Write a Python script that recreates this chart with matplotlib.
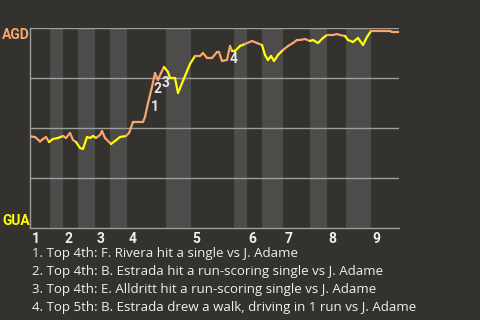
import matplotlib
matplotlib.use("Agg")
import matplotlib.pyplot as plt
from matplotlib.collections import LineCollection
import numpy as np

# win probability trace (x = game progress in plays, wp = chance AGD wins)
play = [0, 1.25, 2.5, 3.25, 4, 4.75, 5.75, 7, 8.25, 9, 10, 10.75, 11.5, 12.5, 13.25,
        14.25, 15, 15.75, 16.5, 17.5, 18, 18.75, 20.25, 21.25, 22.5, 24, 24.75, 25.75,
        28.25, 28.75, 29.5, 30.5, 31.25, 32, 32.75, 33.5, 34.5, 35, 36.25, 37, 38.75,
        40, 41.25, 42.5, 43.25, 44.25, 45.5, 46.75, 47.25, 48, 49.25, 50, 50.5, 51.25,
        52.5, 53.75, 55.5, 56.75, 58, 58.75, 59.5, 60.25, 61, 62, 63.25, 64.5, 65.75,
        66.75, 67.5, 68.75, 70, 70.75, 72, 73.25, 74.25, 75.75, 76.75, 77.5, 78.75,
        79.5, 80.75, 82, 83.25, 84.25, 85.25, 90, 90.5, 92.25]
wp = [0.458, 0.455, 0.433, 0.445, 0.455, 0.43, 0.445, 0.45, 0.46, 0.45, 0.475, 0.44,
      0.43, 0.40, 0.395, 0.455, 0.45, 0.46, 0.45, 0.465, 0.485, 0.45, 0.42, 0.435,
      0.455, 0.46, 0.475, 0.53, 0.53, 0.555, 0.625, 0.705, 0.775, 0.74, 0.775, 0.805,
      0.78, 0.75, 0.75, 0.675, 0.76, 0.82, 0.86, 0.86, 0.875, 0.85, 0.85, 0.88, 0.88,
      0.835, 0.84, 0.91, 0.885, 0.885, 0.91, 0.92, 0.935, 0.925, 0.915, 0.865, 0.84,
      0.86, 0.835, 0.865, 0.89, 0.91, 0.925, 0.94, 0.94, 0.945, 0.935, 0.94, 0.925,
      0.95, 0.965, 0.965, 0.97, 0.965, 0.96, 0.94, 0.93, 0.95, 0.915, 0.955, 0.985,
      0.985, 0.98, 0.98]

inning_start = [0, 8.25, 16.25, 24.25, 40.25, 54.25, 63.25, 74.25, 85.25]
bottom_halves = [(5, 8.25), (12, 16.25), (20, 24.25), (34, 40.25), (51, 54.25),
                 (58, 63.25), (70, 74.25), (79, 85.25)]
yellow_spans = [(4.75, 8.25), (12, 16.25), (20, 24.25), (34, 41.25), (50.5, 54.25),
                (58, 63.25), (70, 74.25), (79, 85.25)]
game_end = 92.25

events = ["1. Top 4th: F. Rivera hit a single vs J. Adame",
          "2. Top 4th: B. Estrada hit a run-scoring single vs J. Adame",
          "3. Top 4th: E. Alldritt hit a run-scoring single vs J. Adame",
          "4. Top 5th: B. Estrada drew a walk, driving in 1 run vs J. Adame"]
event_marks = [(31.25, 0.605), (32, 0.695), (34, 0.725), (51.0, 0.845)]

away, home = "AGD", "GUA"
bg = "#34322f"
band = "#4d4c4a"
grid = "#9d9d9b"
orange = "#f9a66c"
yellow = "#ffff00"

plt.rcParams['font.family'] = ['Roboto', 'DejaVu Sans']

fig = plt.figure(figsize=(4.8, 3.2), dpi=100, facecolor=bg)
ax = fig.add_axes([30 / 480, 1 - 228 / 320, 369 / 480, 200 / 320])
ax.set_facecolor(bg)
ax.set_xlim(0, game_end)
ax.set_ylim(0, 1)

for a, b in bottom_halves:
    ax.axvspan(a, b, color=band, lw=0, zorder=0)

for y in [0.25, 0.5, 0.75, 1.0]:
    ax.axhline(y, color=grid, lw=1, zorder=1)

for s in ['top', 'right']:
    ax.spines[s].set_visible(False)
for s in ['left', 'bottom']:
    ax.spines[s].set_color(grid)
    ax.spines[s].set_linewidth(1)
ax.set_xticks([])
ax.set_yticks([])

# colour each segment by who is batting
pts = np.column_stack([play, wp])
segs = np.stack([pts[:-1], pts[1:]], axis=1)
cols = []
for i in range(len(play) - 1):
    mid = (play[i] + play[i + 1]) / 2
    is_yellow = any(a <= mid <= b for a, b in yellow_spans)
    cols.append(yellow if is_yellow else orange)
lc = LineCollection(segs, colors=cols, linewidths=1.6, zorder=3, capstyle='round', joinstyle='round')
ax.add_collection(lc)

for n, x0 in enumerate(inning_start):
    ax.text(x0 + 0.35, -0.022, str(n + 1), transform=ax.get_xaxis_transform(),
            ha='left', va='top', color='#f0f0f0', fontsize=10, fontweight='bold')

for k, (x, y) in enumerate(event_marks):
    ax.text(x, y, str(k + 1), ha='center', va='center', color='#e6e6e6',
            fontsize=10, fontweight='bold', zorder=4)

fig.text(2 / 480, 1 - 35 / 320, away, color=orange, fontsize=10, fontweight='bold',
         ha='left', va='center')
fig.text(2 / 480, 1 - 221 / 320, home, color=yellow, fontsize=10, fontweight='bold',
         ha='left', va='center')

for i, e in enumerate(events):
    fig.text(32 / 480, 1 - (253 + 18 * i) / 320, e, color='#f0f0f0', fontsize=9.5,
             ha='left', va='center', family=['Open Sans', 'DejaVu Sans'])

fig.savefig("out.png", dpi=100, facecolor=bg)
